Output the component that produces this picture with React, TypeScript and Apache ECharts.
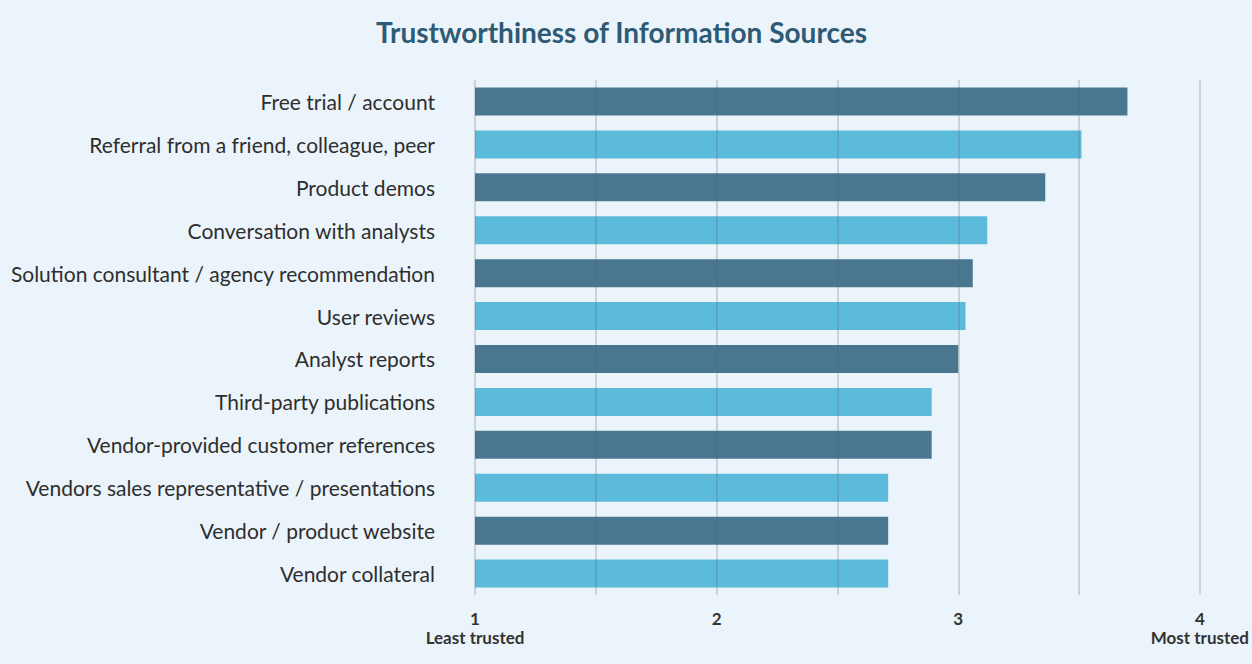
import React, { useEffect, useRef } from "react";
import * as echarts from "echarts";

const categories: string[] = [
  "Free trial / account",
  "Referral from a friend, colleague, peer",
  "Product demos",
  "Conversation with analysts",
  "Solution consultant / agency recommendation",
  "User reviews",
  "Analyst reports",
  "Third-party publications",
  "Vendor-provided customer references",
  "Vendors sales representative / presentations",
  "Vendor / product website",
  "Vendor collateral",
];

const scores: number[] = [3.7, 3.51, 3.36, 3.12, 3.06, 3.03, 3.0, 2.89, 2.89, 2.71, 2.71, 2.71];

const barColors: string[] = ["#4a7790", "#5cbbda"];

const title = "Trustworthiness of Information Sources";
const axisEndLabels: Record<number, string> = { 1: "Least trusted", 4: "Most trusted" };

export default function App() {
  const ref = useRef<HTMLDivElement>(null);
  useEffect(() => {
    document.body.style.margin = "0";
    document.body.style.overflow = "hidden";
    const chart = echarts.init(ref.current!, undefined, { renderer: "svg", width: 1252, height: 664 });
    chart.setOption({
      animation: false,
      backgroundColor: "#ebf4fa",
      textStyle: { fontFamily: "Lato" },
      title: {
        text: title,
        left: 371,
        top: 13,
        textStyle: { fontFamily: "Lato", fontSize: 28, fontWeight: "bold", color: "#2f5a74" },
      },
      grid: { left: 475, right: 50, top: 80, bottom: 69 },
      xAxis: {
        type: "value",
        min: 1,
        max: 4,
        interval: 0.5,
        z: 3,
        axisLine: { show: false },
        axisTick: { show: false },
        splitLine: { show: true, lineStyle: { color: "rgba(90,100,110,0.3)", width: 1.5 } },
        axisLabel: {
          margin: 14,
          lineHeight: 19,
          fontSize: 17,
          fontWeight: "bold",
          color: "#333333",
          formatter: (v: number) => {
            if (!Number.isInteger(v)) return "";
            return axisEndLabels[v] ? `${v}\n${axisEndLabels[v]}` : `${v}`;
          },
        },
      },
      yAxis: {
        type: "category",
        data: categories,
        inverse: true,
        axisLine: { show: false },
        axisTick: { show: false },
        splitLine: { show: false },
        axisLabel: { margin: 40, fontSize: 21, color: "#2e2e2e" },
      },
      series: [
        {
          type: "bar",
          data: scores,
          barWidth: 28,
          itemStyle: { color: (p: any) => barColors[p.dataIndex % 2] },
        },
      ],
    });
    return () => chart.dispose();
  }, []);
  return <div ref={ref} style={{ width: 1252, height: 664, overflow: "hidden" }} />;
}
